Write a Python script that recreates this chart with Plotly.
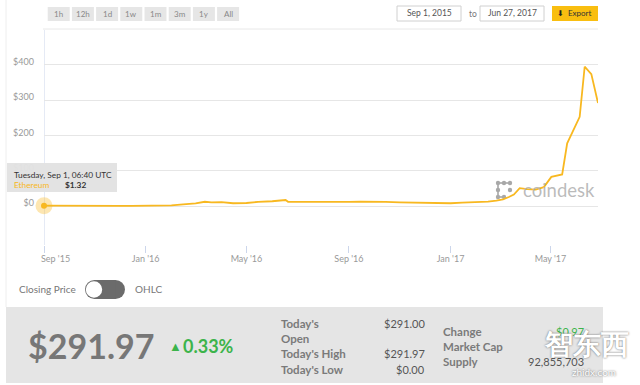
import plotly.graph_objects as go

# ---------------- data ----------------
dates = ["2015-09-01", "2015-09-15", "2015-10-01", "2015-10-15", "2015-11-01", "2015-11-15",
         "2015-12-01", "2015-12-15", "2016-01-01", "2016-01-15", "2016-02-01", "2016-02-15",
         "2016-03-01", "2016-03-12", "2016-03-20", "2016-04-01", "2016-04-15", "2016-05-01",
         "2016-05-15", "2016-06-01", "2016-06-12", "2016-06-17", "2016-06-20", "2016-07-01",
         "2016-07-15", "2016-08-01", "2016-08-15", "2016-09-01", "2016-09-15", "2016-10-01",
         "2016-10-15", "2016-11-01", "2016-11-15", "2016-12-01", "2016-12-15", "2017-01-01",
         "2017-01-15", "2017-02-01", "2017-02-15", "2017-02-25", "2017-03-05", "2017-03-12",
         "2017-03-18", "2017-03-25", "2017-04-03", "2017-04-13", "2017-04-23", "2017-05-02",
         "2017-05-15", "2017-05-21", "2017-05-25", "2017-06-05", "2017-06-11", "2017-06-19",
         "2017-06-27"]
prices = [1.32, 0.95, 0.75, 0.55, 1.0, 0.95,
          0.88, 0.95, 0.95, 1.2, 2.3, 5.2,
          7.8, 12.5, 10.8, 11.5, 8.3, 8.9,
          12.2, 13.9, 15.5, 17.5, 12.5, 12.3,
          11.6, 10.5, 11.0, 12.0, 12.5, 13.1,
          11.9, 10.9, 9.9, 8.6, 7.8, 8.2,
          9.8, 10.7, 12.8, 16.0, 19.5, 26.0,
          33.0, 51.0, 48.0, 47.0, 54.0, 83.0,
          90.0, 178.0, 198.0, 253.0, 395.0, 374.0,
          292.0]

x_tick_vals = ["2015-09-01", "2016-01-01", "2016-05-01", "2016-09-01", "2017-01-01", "2017-05-01"]
x_tick_text = ["\u00a0" * 10 + "Sep '15", "Jan '16", "May '16", "Sep '16", "Jan '17", "May '17"]
y_tick_vals = [0, 100, 200, 300, 400]
y_tick_text = ["$0", "$100", "$200", "$300", "$400"]

range_buttons = ["1h", "12h", "1d", "1w", "1m", "3m", "1y", "All"]
date_from = "Sep 1, 2015"
date_to = "Jun 27, 2017"

tooltip_date = "Tuesday, Sep 1, 06:40 UTC"
series_name = "Ethereum"
tooltip_value = "$1.32"

current_price = "$291.97"
change_pct = "0.33%"
stat_labels_left = ["Today's", "Open", "Today's High", "Today's Low"]
stat_values_left = ["$291.00", "", "$291.97", "$0.00"]
stat_labels_right = ["Change", "Market Cap", "Supply"]
stat_values_right = ["$0.97", "", "92,855,703"]

# ---------------- geometry helpers (pixel -> paper) ----------------
W, H = 640, 385
L, R, T, B = 44, 598, 30, 245
def px(x):
    return (x - L) / (R - L)
def py(y):
    return (B - y) / (B - T)

FONT = "Lato, 'Open Sans', sans-serif"
LINE_COLOR = "#f8b820"

fig = go.Figure()
fig.add_trace(go.Scatter(x=dates, y=prices, mode="lines",
                         line=dict(color=LINE_COLOR, width=1.8),
                         hoverinfo="skip", showlegend=False))
# hover marker (halo + dot) on first point
fig.add_trace(go.Scatter(x=[dates[0]], y=[prices[0]], mode="markers",
                         marker=dict(size=17, color="rgba(248,184,32,0.35)"),
                         cliponaxis=False, hoverinfo="skip", showlegend=False))
fig.add_trace(go.Scatter(x=[dates[0]], y=[prices[0]], mode="markers",
                         marker=dict(size=6, color=LINE_COLOR),
                         cliponaxis=False, hoverinfo="skip", showlegend=False))

shapes = []
ann = []

def rect(x0, y0, x1, y1, fill, line=None, layer="above", lw=1):
    shapes.append(dict(type="rect", xref="paper", yref="paper",
                       x0=px(x0), x1=px(x1), y0=py(y1), y1=py(y0),
                       fillcolor=fill, line=dict(color=line or fill, width=lw if line else 0),
                       layer=layer))

def circ(cx, cy, r, fill, line=None, layer="above", lw=1):
    shapes.append(dict(type="circle", xref="paper", yref="paper",
                       x0=px(cx - r), x1=px(cx + r), y0=py(cy + r), y1=py(cy - r),
                       fillcolor=fill, line=dict(color=line or fill, width=lw if line else 0),
                       layer=layer))

def hline(x0, x1, y, color, layer="below"):
    shapes.append(dict(type="line", xref="paper", yref="paper",
                       x0=px(x0), x1=px(x1), y0=py(y), y1=py(y),
                       line=dict(color=color, width=1), layer=layer))

def vline(x, y0, y1, color, layer="below"):
    shapes.append(dict(type="line", xref="paper", yref="paper",
                       x0=px(x), x1=px(x), y0=py(y0), y1=py(y1),
                       line=dict(color=color, width=1), layer=layer))

def text(x, y, s, size=9, color="#777", anchor="left", bold=False, shadow=None):
    f = dict(family=FONT, size=size, color=color)
    if bold:
        f["weight"] = "bold"
    if shadow:
        f["shadow"] = shadow
    ann.append(dict(xref="paper", yref="paper", x=px(x), y=py(y), text=s,
                    showarrow=False, xanchor=anchor, yanchor="middle", font=f))

# container borders
vline(6, 0, 307, "#eeeeee")
hline(43, 598, 29, "#e8e8e8")

# crosshair
shapes.append(dict(type="line", xref="x", yref="paper", x0=dates[0], x1=dates[0],
                   y0=0, y1=1, line=dict(color="#ccd6eb", width=1), layer="below"))

# range buttons
for i, lab in enumerate(range_buttons):
    x0 = 47.7 + i * 24.2
    rect(x0, 7, x0 + 22, 21, "#e6e6e6")
    text(x0 + 11, 14, lab, size=8, color="#888", anchor="center")

# date inputs + export
rect(397, 6, 461, 21, "#ffffff", line="#d0d0d0")
text(429, 13.5, date_from, size=8.5, color="#555", anchor="center")
text(473, 14, "to", size=8.5, color="#777", anchor="center")
rect(480, 6, 544, 21, "#ffffff", line="#d0d0d0")
text(512, 13.5, date_to, size=8.5, color="#555", anchor="center")
rect(552, 6, 598, 21, "#f9be10")
text(560, 13.5, "⬇", size=8, color="#222", anchor="center")
text(566, 13.5, "Export", size=8, color="#333", anchor="left")

# tooltip
rect(7, 163, 117, 192, "rgba(226,226,226,0.97)")
text(12, 174.5, tooltip_date, size=8.3, color="#333")
text(12, 185, series_name, size=8.3, color=LINE_COLOR)
text(63, 185, tooltip_value, size=8.3, color="#333", bold=True)

# coindesk logo (icon + word)
icon_pts = [(498, 183), (504, 183), (510, 183), (498, 190), (498, 197), (504, 197), (510, 190)]
for (a, b) in [((498, 183), (510, 183)), ((498, 183), (498, 197)), ((498, 197), (504, 197))]:
    shapes.append(dict(type="line", xref="paper", yref="paper",
                       x0=px(a[0]), x1=px(b[0]), y0=py(a[1]), y1=py(b[1]),
                       line=dict(color="#b8b8b8", width=2), layer="below"))
for (cx, cy) in icon_pts:
    circ(cx, cy, 2.2, "#a8a8a8", layer="below")
text(521, 189.5, "coindesk", size=18.5, color="rgba(175,175,175,0.85)")

# closing price toggle
text(17, 289, "Closing Price", size=10, color="#777")
circ(94.5, 289.5, 9.5, "#6b6b6b")
circ(115.5, 289.5, 9.5, "#6b6b6b")
rect(94.5, 280, 115.5, 299, "#6b6b6b")
circ(94, 289.5, 8.2, "#ffffff")
text(133, 289, "OHLC", size=10, color="#777")

# bottom panel
rect(6, 307, 603, 383, "#e5e5e5", layer="below")
text(26, 345, current_price, size=34, color="#777777", bold=True)
text(167, 346.5, "▲", size=13, color="#3cb44b")
text(181, 346, change_pct, size=18, color="#3cb44b", bold=True)

left_y = [323, 338, 353, 369]
for lab, val, yy in zip(stat_labels_left, stat_values_left, left_y):
    text(279, yy, lab, size=11.5, color="#7a7a7a", bold=True)
    if val:
        text(427, yy, val, size=11, color="#555", anchor="right")
right_y = [331, 346, 361]
for lab, val, yy in zip(stat_labels_right, stat_values_right, right_y):
    text(441, yy, lab, size=11.5, color="#7a7a7a", bold=True)
    if val:
        col = "#3cb44b" if lab == "Change" else "#555"
        text(586, yy, val, size=11, color=col, anchor="right")

# watermark
text(586, 343, "智东西", size=28, color="#ffffff", anchor="center", bold=True,
     shadow="0px 0px 2px #555")
text(594, 372, "zhidx.com", size=10, color="#ffffff", anchor="center",
     shadow="0px 0px 2px #555")

fig.update_layout(
    width=W, height=H,
    margin=dict(l=L, r=W - R, t=T, b=H - B, pad=0),
    paper_bgcolor="#ffffff", plot_bgcolor="#ffffff",
    showlegend=False,
    shapes=shapes, annotations=ann,
    xaxis=dict(type="date", range=["2015-09-01", "2017-06-27"],
               tickmode="array", tickvals=x_tick_vals, ticktext=x_tick_text,
               showgrid=False, zeroline=False, showline=False,
               ticks="outside", ticklen=7, tickcolor="#ccd6eb",
               ticklabelstandoff=-2,
               tickfont=dict(family=FONT, size=9, color="#999")),
    yaxis=dict(range=[-110, 499], tickmode="array", tickvals=y_tick_vals, ticktext=y_tick_text,
               showgrid=True, gridcolor="#e6e6e6", gridwidth=1, zeroline=False,
               showline=False, ticks="", ticklabelstandoff=9, ticklabelshift=-3,
               tickfont=dict(family=FONT, size=9, color="#999")),
    font=dict(family=FONT),
)

fig.write_html("out.html", config={"displayModeBar": False},
               post_script="document.body.style.margin='0px';document.body.style.overflow='hidden';")
